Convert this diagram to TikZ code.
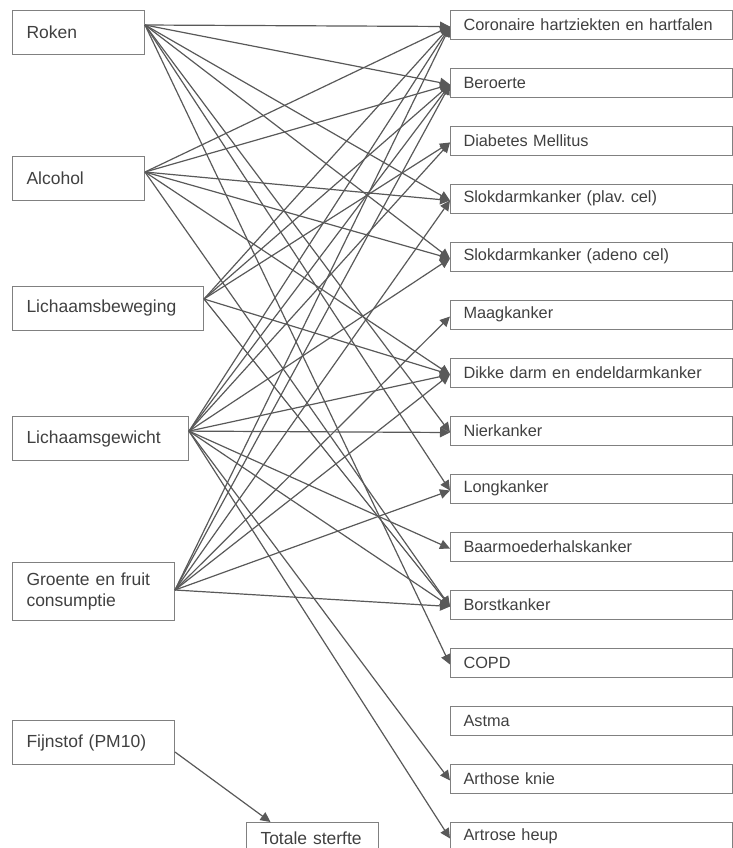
\documentclass[tikz,border=0pt]{standalone}
\usepackage{fontspec}
\setmainfont{Liberation Sans}
\usetikzlibrary{arrows.meta}
\frenchspacing

\begin{document}
\begin{tikzpicture}
[x=0.5pt,y=-0.5pt,->,>={Triangle[length=5pt,width=4.8pt]},
factor/.style={draw=black!50,line width=0.5pt,text=black!75,align=left,inner xsep=7pt,minimum height=22pt,anchor=west,font=\fontsize{8.75}{10.5}\selectfont},
disease/.style={draw=black!50,line width=0.5pt,text=black!75,align=left,inner xsep=6.5pt,text width=128pt,minimum height=14.5pt,anchor=west,font=\fontsize{8.15}{9.8}\selectfont},
link/.style={draw=black!65,line width=0.6pt}]
\useasboundingbox (0,0) rectangle (733,848);
\node[factor,text width=52pt] (roken) at (12,32) {Roken};
\node[factor,text width=52pt] (alcohol) at (12,178) {Alcohol};
\node[factor,text width=81.5pt] (beweging) at (12,308) {Lichaamsbeweging};
\node[factor,text width=74pt] (gewicht) at (12,438.5) {Lichaamsgewicht};
\node[factor,text width=67pt,minimum height=29pt] (groente) at (12,591) {Groente en fruit\\consumptie};
\node[factor,text width=67pt] (fijnstof) at (12,742.5) {Fijnstof (PM10)};
\node[factor,text width=52pt,minimum height=16pt,anchor=north west] (sterfte) at (246,822) {Totale sterfte};
\foreach \name/\txt [count=\k from 0] in {chz/Coronaire hartziekten en hartfalen,beroerte/Beroerte,diabetes/Diabetes Mellitus,plav/Slokdarmkanker (plav. cel),adeno/Slokdarmkanker (adeno cel),maag/Maagkanker,dikkedarm/Dikke darm en endeldarmkanker,nier/Nierkanker,long/Longkanker,baarmoeder/Baarmoederhalskanker,borst/Borstkanker,copd/COPD,astma/Astma,knie/Arthose knie,heup/Artrose heup}
  \node[disease] (\name) at (450,{24.5+58*\k}) {\txt};
\coordinate (roken-o) at ([yshift=3.5pt]roken.east);
\coordinate (alcohol-o) at ([yshift=3pt]alcohol.east);
\coordinate (beweging-o) at ([yshift=4.5pt]beweging.east);
\coordinate (gewicht-o) at ([yshift=3.7pt]gewicht.east);
\coordinate (groente-o) at ([yshift=0.5pt]groente.east);
\foreach \src/\dst in {roken/chz,roken/beroerte,roken/plav,roken/adeno,roken/nier,roken/long,roken/copd,
  alcohol/chz,alcohol/beroerte,alcohol/plav,alcohol/adeno,alcohol/dikkedarm,alcohol/borst,
  beweging/chz,beweging/beroerte,beweging/diabetes,beweging/dikkedarm,beweging/borst,
  gewicht/chz,gewicht/beroerte,gewicht/diabetes,gewicht/adeno,gewicht/dikkedarm,gewicht/nier,gewicht/baarmoeder,gewicht/borst,gewicht/knie,gewicht/heup,
  groente/chz,groente/beroerte,groente/plav,groente/maag,groente/dikkedarm,groente/long,groente/borst}
  \draw[link] (\src-o) -- ([yshift=-1pt]\dst.west);
\draw[link] ([yshift=6.5pt]fijnstof.south east) -- ([xshift=-21pt]sterfte.north);
\end{tikzpicture}
\end{document}
